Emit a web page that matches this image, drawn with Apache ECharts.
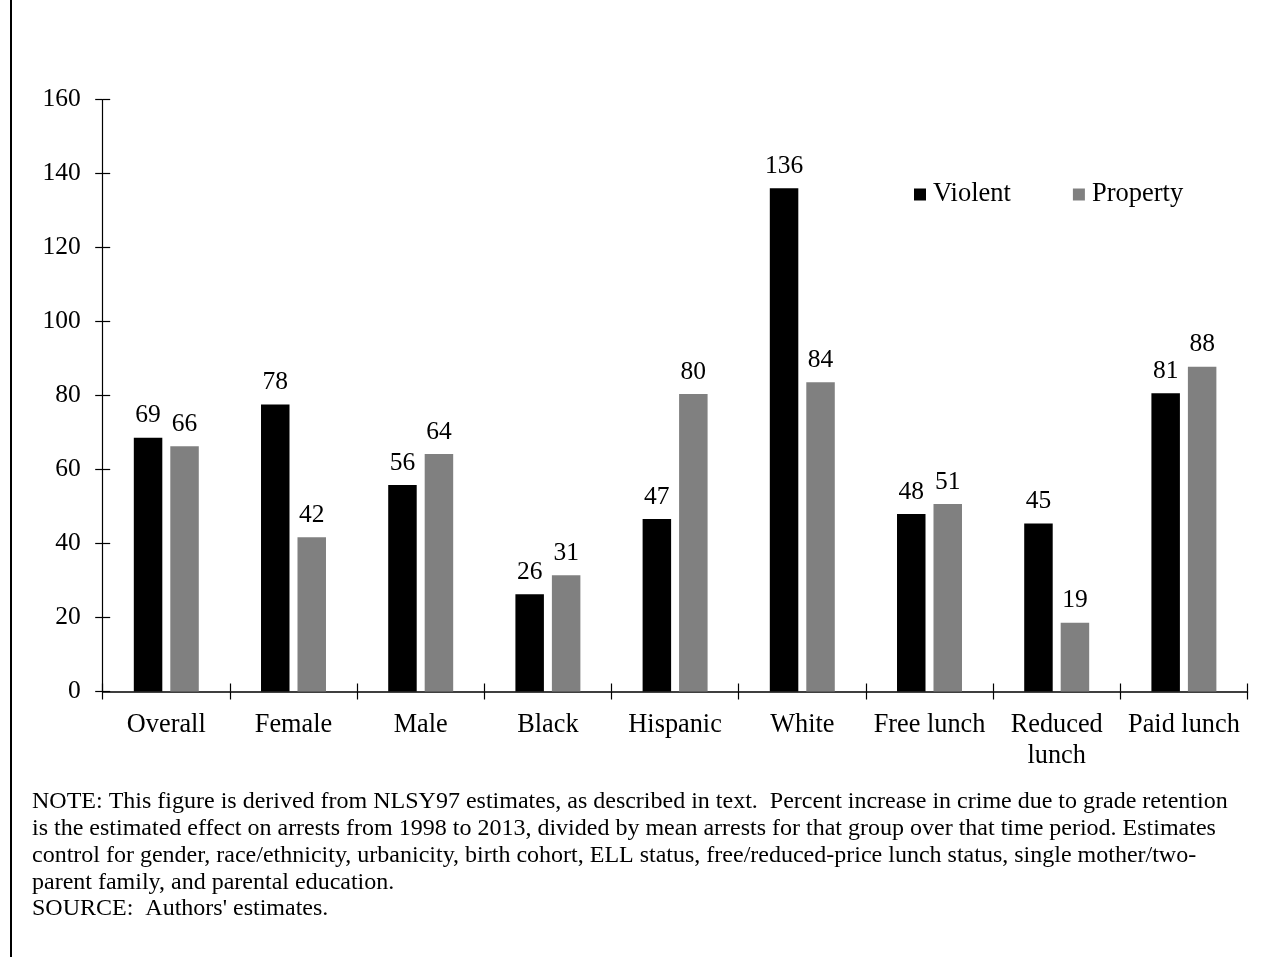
<!DOCTYPE html>
<html>
<head>
<meta charset="utf-8">
<script src="https://cdn.jsdelivr.net/npm/echarts@6/dist/echarts.min.js"></script>
<style>html,body{margin:0;padding:0;background:#fff}#c{width:1272px;height:957px}</style>
</head>
<body>
<div id="c"></div>
<script>
const categories = ['Overall','Female','Male','Black','Hispanic','White','Free lunch','Reduced\nlunch','Paid lunch'];
const violent = [68.6, 77.6, 55.8, 26.3, 46.6, 136.0, 48.0, 45.4, 80.6];
const property = [66.3, 41.7, 64.2, 31.4, 80.4, 83.6, 50.7, 18.6, 87.8];
const yTicks = [0, 20, 40, 60, 80, 100, 120, 140, 160];
const noteLines = [
  'NOTE: This figure is derived from NLSY97 estimates, as described in text.  Percent increase in crime due to grade retention',
  'is the estimated effect on arrests from 1998 to 2013, divided by mean arrests for that group over that time period. Estimates',
  'control for gender, race/ethnicity, urbanicity, birth cohort, ELL status, free/reduced-price lunch status, single mother/two-',
  'parent family, and parental education.',
  "SOURCE:  Authors' estimates."
];

const FONT = '"Liberation Serif","Times New Roman",serif';
const chart = echarts.init(document.getElementById('c'));
const yMin = yTicks[0], yMax = yTicks[yTicks.length-1], yInt = yTicks[1]-yTicks[0];

const labelCfg = {
  show: true, position: 'top', distance: 9,
  fontFamily: FONT, fontSize: 25.5, color: '#000',
  formatter: p => Math.round(p.value)
};

const graphics = [
  {type:'line', shape:{x1:11, y1:0, x2:11, y2:957}, style:{stroke:'#000', lineWidth:2}}
];
noteLines.forEach((t,i) => {
  graphics.push({type:'text', x:32, y:802 + i*26.8,
    style:{text:t, font:'24px ' + FONT, fill:'#000', verticalAlign:'middle', align:'left'}});
});

chart.setOption({
  animation: false,
  backgroundColor: '#fff',
  grid: {left: 102.7, right: 24.5, top: 99.5, bottom: 265.5},
  legend: {
    data: ['Violent','Property'],
    left: 909, top: 176,
    itemWidth: 12, itemHeight: 12, itemGap: 62,
    icon: 'rect',
    textStyle: {fontFamily: FONT, fontSize: 26.5, color: '#000', padding:[0,0,0,2]}
  },
  xAxis: [
    {type:'category', data: categories, position:'bottom',
     axisLine:{show:true, lineStyle:{color:'#000', width:1.5}},
     axisTick:{show:true, inside:false, length:8, lineStyle:{color:'#000', width:1.2}},
     axisLabel:{fontFamily: FONT, fontSize: 26.3, color:'#000', margin: 18, lineHeight: 31, interval:0}},
    {type:'category', data: categories, position:'bottom',
     axisLine:{show:false},
     axisTick:{show:true, inside:true, length:8, lineStyle:{color:'#000', width:1.2}},
     axisLabel:{show:false}}
  ],
  yAxis: [
    {type:'value', min: yMin, max: yMax, interval: yInt, position:'left',
     splitLine:{show:false},
     axisLine:{show:true, lineStyle:{color:'#000', width:1.2}},
     axisTick:{show:true, inside:false, length:7.5, lineStyle:{color:'#000', width:1.2}},
     axisLabel:{fontFamily: FONT, fontSize: 25.5, color:'#000', margin: 22}},
    {type:'value', min: yMin, max: yMax, interval: yInt, position:'left',
     splitLine:{show:false},
     axisLine:{show:false},
     axisTick:{show:true, inside:true, length:7.5, lineStyle:{color:'#000', width:1.2}},
     axisLabel:{show:false}}
  ],
  series: [
    {name:'Violent', type:'bar', data: violent, xAxisIndex:0, yAxisIndex:0,
     barWidth: 28.5, barGap: '28%', itemStyle:{color:'#000000'}, label: labelCfg},
    {name:'Property', type:'bar', data: property, xAxisIndex:0, yAxisIndex:0,
     barWidth: 28.5, barGap: '28%', itemStyle:{color:'#808080'}, label: labelCfg}
  ],
  graphic: graphics
});
</script>
</body>
</html>
